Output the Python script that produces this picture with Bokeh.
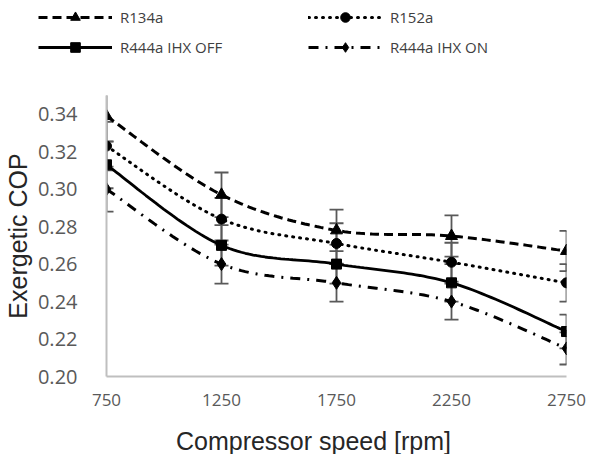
import numpy as np
from bokeh.plotting import figure
from bokeh.models import Range1d, FixedTicker, NumeralTickFormatter, Legend, LegendItem, Label
from bokeh.embed import file_html
from bokeh.resources import INLINE

# ---- data ----
speeds = [750, 1250, 1750, 2250, 2750]
r134a = [0.339, 0.297, 0.278, 0.275, 0.267]
r152a = [0.323, 0.284, 0.271, 0.261, 0.250]
r444a_off = [0.313, 0.270, 0.260, 0.250, 0.224]
r444a_on = [0.300, 0.260, 0.250, 0.240, 0.215]
err_r134a = [0.0136, 0.0119, 0.0111, 0.0110, 0.0107]
err_r152a = [0.0129, 0.0114, 0.0108, 0.0104, 0.0100]
err_r444a_off = [0.0125, 0.0108, 0.0104, 0.0100, 0.0090]
err_r444a_on = [0.0120, 0.0104, 0.0100, 0.0096, 0.0086]
y_ticks = [0.20, 0.22, 0.24, 0.26, 0.28, 0.30, 0.32, 0.34]

names = ["R134a", "R152a", "R444a IHX OFF", "R444a IHX ON"]
series = [r134a, r152a, r444a_off, r444a_on]
errors = [err_r134a, err_r152a, err_r444a_off, err_r444a_on]
x_title = "Compressor speed [rpm]"
y_title = "Exergetic COP"


def smooth(xs, ys, n=30):
    """Excel-like smoothed line: Catmull-Rom converted to cubic Bezier segments."""
    xs = np.asarray(xs, float)
    ys = np.asarray(ys, float)
    px = np.concatenate([[xs[0]], xs, [xs[-1]]])
    py = np.concatenate([[ys[0]], ys, [ys[-1]]])
    ox, oy = [], []
    t = np.linspace(0, 1, n)
    for i in range(1, len(px) - 2):
        x0, y0 = px[i], py[i]
        x3, y3 = px[i + 1], py[i + 1]
        x1 = x0 + (px[i + 1] - px[i - 1]) / 6
        y1 = y0 + (py[i + 1] - py[i - 1]) / 6
        x2 = x3 - (px[i + 2] - px[i]) / 6
        y2 = y3 - (py[i + 2] - py[i]) / 6
        b0 = (1 - t) ** 3
        b1 = 3 * (1 - t) ** 2 * t
        b2 = 3 * (1 - t) * t ** 2
        b3 = t ** 3
        ox.extend(b0 * x0 + b1 * x1 + b2 * x2 + b3 * x3)
        oy.extend(b0 * y0 + b1 * y1 + b2 * y2 + b3 * y3)
    return ox, oy


styles = [
    dict(dash="9 5", width=3, cap="butt", marker="triangle", size=12),
    dict(dash="1 6", width=3, cap="round", marker="circle", size=10),
    dict(dash="solid", width=2.8, cap="butt", marker="square", size=10),
    dict(dash="10 7 2 7", width=3, cap="butt", marker="diamond", size=13),
]


def bare(fig):
    fig.outline_line_color = None
    fig.grid.visible = False
    return fig


# ---------- legend strip (top) ----------
top = bare(figure(width=599, height=60, output_backend="svg", toolbar_location=None,
                  x_range=Range1d(0, 1), y_range=Range1d(0, 1),
                  x_axis_location=None, y_axis_location=None, min_border=0))
leg_items = []
for name, ys, st in zip(names, series, styles):
    # data lie outside this strip's ranges: only their legend samples are visible
    ln = top.line(speeds, ys, line_color="black", line_width=st["width"],
                  line_dash=st["dash"], line_cap=st["cap"])
    mk = top.scatter(speeds, ys, marker=st["marker"], fill_color="black", line_color="black")
    leg_items.append(LegendItem(label=name, renderers=[ln, mk]))


def make_legend(its, vx, vy):
    return Legend(items=its, location=(vx, vy), orientation="vertical",
                  glyph_width=74, glyph_height=24, label_height=24, spacing=6,
                  label_standoff=8, padding=0, margin=0,
                  border_line_color=None, background_fill_alpha=0,
                  label_text_font="Open Sans", label_text_font_size="15px",
                  label_text_color="#404040")


top.add_layout(make_legend([leg_items[0], leg_items[2]], 38, 1), "center")
top.add_layout(make_legend([leg_items[1], leg_items[3]], 308, 1), "center")

# ---------- main chart ----------
p = bare(figure(width=599, height=364, output_backend="svg", toolbar_location=None,
                x_range=Range1d(750, 2750), y_range=Range1d(0.20, 0.35),
                min_border_left=105, min_border_right=33, min_border_top=35,
                min_border_bottom=48))
p.background_fill_color = "white"

p.xaxis.ticker = FixedTicker(ticks=speeds)
p.yaxis.ticker = FixedTicker(ticks=y_ticks)
p.yaxis.formatter = NumeralTickFormatter(format="0.00")
for ax in (p.xaxis, p.yaxis):
    ax.axis_line_color = "#bfbfbf"
    ax.axis_line_width = 2
    ax.major_tick_line_color = None
    ax.minor_tick_line_color = None
    ax.major_label_text_color = "#595959"
    ax.major_label_text_font = "Open Sans"
p.xaxis.major_label_text_font_size = "17px"
p.yaxis.major_label_text_font_size = "20px"
p.xaxis.major_label_standoff = 11
p.yaxis.major_label_standoff = 23
p.yaxis.axis_label = y_title
p.yaxis.axis_label_text_color = "#262626"
p.yaxis.axis_label_text_font = "Liberation Sans"
p.yaxis.axis_label_text_font_style = "normal"
p.yaxis.axis_label_text_font_size = "25px"
p.yaxis.axis_label_standoff = 3

err_col = "#595959"
for ys, es in zip(series, errors):
    lo = [y - e for y, e in zip(ys, es)]
    hi = [y + e for y, e in zip(ys, es)]
    p.segment(x0=speeds, y0=lo, x1=speeds, y1=hi, line_color=err_col, line_width=1.8)
    p.scatter(x=speeds + speeds, y=lo + hi, marker="dash", size=14,
              line_color=err_col, line_width=1.8)

for name, ys, st in zip(names, series, styles):
    sx, sy = smooth(speeds, ys)
    p.line(sx, sy, line_color="black", line_width=st["width"],
           line_dash=st["dash"], line_cap=st["cap"])
    p.scatter(x=speeds, y=ys, marker=st["marker"], size=st["size"],
              fill_color="black", line_color="black")

# ---------- x-axis title strip (bottom) ----------
bot = bare(figure(width=599, height=30, output_backend="svg", toolbar_location=None,
                  x_range=Range1d(0, 1), y_range=Range1d(0, 1),
                  x_axis_location=None, y_axis_location=None, min_border=0))
bot.add_layout(Label(x=313, y=14, x_units="screen", y_units="screen", text=x_title,
                     text_font="Liberation Sans", text_font_size="25px",
                     text_color="#262626", text_align="center", text_baseline="middle"))

# three independent roots, stacked on the page (no frame alignment between them)
open("out.html", "w").write(file_html([top, p, bot], INLINE))
